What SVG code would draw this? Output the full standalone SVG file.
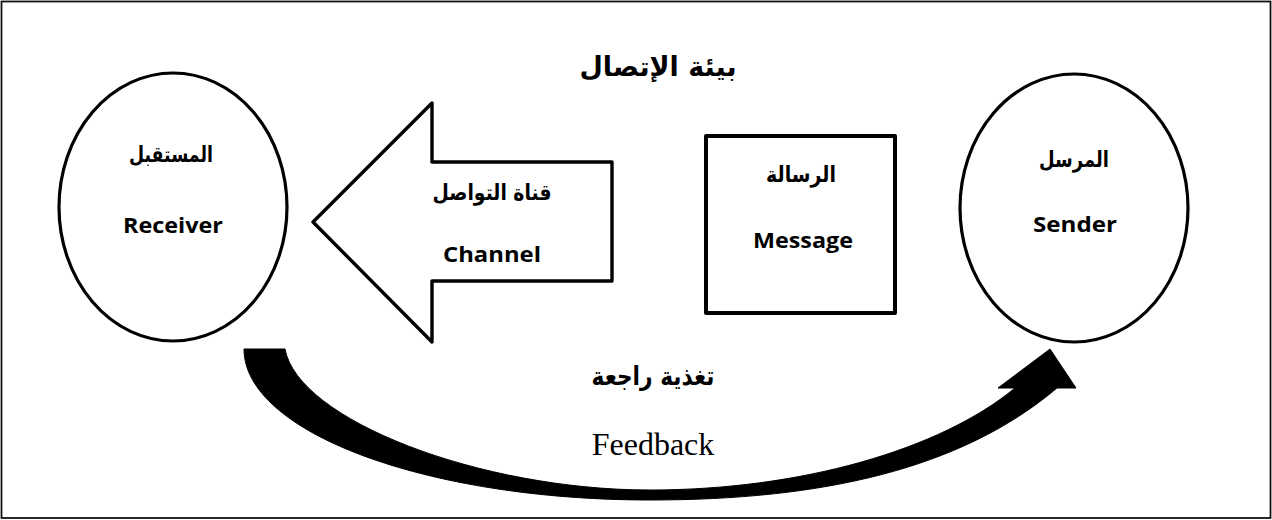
<svg xmlns="http://www.w3.org/2000/svg" width="1272" height="520" viewBox="0 0 1272 520">
<style>
.shape{fill:#fff;stroke:#000;stroke-linejoin:round}
.ar{font-family:"DejaVu Sans","Noto Sans",sans-serif;font-weight:bold;fill:#000;text-anchor:middle}
.en{font-family:"Open Sans","Liberation Sans",sans-serif;font-weight:bold;font-size:22px;fill:#000;text-anchor:middle}
.serif{font-family:"Liberation Serif",serif;font-size:32px;fill:#000;text-anchor:middle}
</style>
<rect x="1.5" y="1.5" width="1269" height="516.5" fill="#fff" stroke="#111" stroke-width="1.8"/>
<text class="ar" x="658" y="76" font-size="27" textLength="157" lengthAdjust="spacingAndGlyphs">بيئة الإتصال</text>
<g id="receiver">
<ellipse class="shape" cx="173" cy="207" rx="114" ry="134" stroke-width="3.2"/>
<text class="ar" x="171" y="162" font-size="22" textLength="84" lengthAdjust="spacingAndGlyphs">المستقبل</text>
<text class="en" x="173" y="233" textLength="100" lengthAdjust="spacingAndGlyphs">Receiver</text>
</g>
<g id="sender">
<ellipse class="shape" cx="1074" cy="208" rx="114" ry="134" stroke-width="3.2"/>
<text class="ar" x="1074" y="167" font-size="22" textLength="70" lengthAdjust="spacingAndGlyphs">المرسل</text>
<text class="en" x="1075" y="232" textLength="84" lengthAdjust="spacingAndGlyphs">Sender</text>
</g>
<g id="channel">
<polygon class="shape" points="313,222 432,103 432,162 612,162 612,281 432,281 432,342" stroke-width="3.4"/>
<text class="ar" x="492" y="200" font-size="22" textLength="119" lengthAdjust="spacingAndGlyphs">قناة التواصل</text>
<text class="en" x="492" y="262" textLength="98" lengthAdjust="spacingAndGlyphs">Channel</text>
</g>
<g id="message">
<rect class="shape" x="706" y="136" width="189" height="177" stroke-width="4"/>
<text class="ar" x="801" y="182" font-size="22" textLength="70" lengthAdjust="spacingAndGlyphs">الرسالة</text>
<text class="en" x="803" y="248" textLength="100" lengthAdjust="spacingAndGlyphs">Message</text>
</g>
<g id="connectors">
<path id="feedback-arrow" d="M244,349 C244,432 426,500 650,500 C820,500 960,470 1057,388 L1076,388 L1050,349 L998,388 L1015,388 C940,450 800,490 650,490 C480,490 298,420 285,349 Z" fill="#000" stroke="#000" stroke-width="1" stroke-linejoin="round"/>
</g>
<g id="feedback-label">
<text class="ar" x="653" y="385" font-size="26" textLength="123" lengthAdjust="spacingAndGlyphs">تغذية راجعة</text>
<text class="serif" x="653" y="455">Feedback</text>
</g>
</svg>
